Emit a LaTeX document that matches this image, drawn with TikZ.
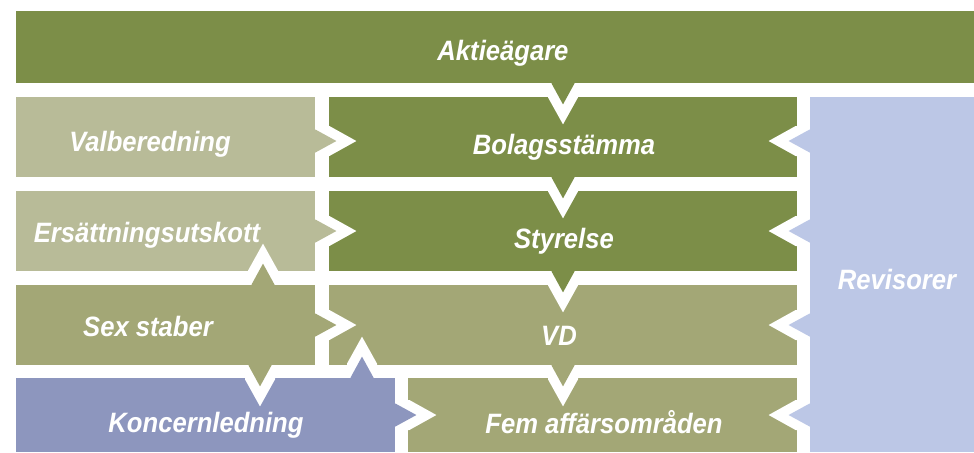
\documentclass[tikz,border=0pt]{standalone}
\usepackage{fontspec}
\newfontfamily\orgfont{Liberation Sans}[FakeStretch=0.915]
\definecolor{cgreen}{RGB}{124,142,72}
\definecolor{csage}{RGB}{184,187,152}
\definecolor{colive}{RGB}{163,167,118}
\definecolor{cslate}{RGB}{141,150,190}
\definecolor{csky}{RGB}{188,199,230}

\begin{document}
\begin{tikzpicture}[
    x=0.5pt, y=-0.5pt,
    box/.style={rectangle, inner sep=0pt, minimum width=149.5pt, minimum height=40pt},
    lbl/.style={anchor=base, inner sep=0pt, text=white,
                font=\orgfont\fontsize{14}{16}\selectfont\bfseries\itshape},
    pics/chev/.style={code={
      \fill[white] (6pt,7.5pt) -- (7pt,7.5pt) -- (20.5pt,0pt) -- (7pt,-7.5pt) -- (6pt,-7.5pt) -- cycle;
      \fill[#1] (-0.5pt,5.75pt) -- (0pt,5.75pt) -- (10.5pt,0pt) -- (0pt,-5.75pt) -- (-0.5pt,-5.75pt) -- cycle;
    }}
  ]
  \useasboundingbox (0,0) rectangle (974,452);

  % boxes
  \node[box, fill=cgreen, minimum width=479pt, minimum height=36pt] (aktie) at (495,47) {};
  \node[box, fill=csage] (valb) at (165.5,137) {};
  \node[box, fill=cgreen, minimum width=234pt] (bolag) at (563,137) {};
  \node[box, fill=csage] (ersatt) at (165.5,231) {};
  \node[box, fill=cgreen, minimum width=234pt] (styr) at (563,231) {};
  \node[box, fill=colive] (sex) at (165.5,325) {};
  \node[box, fill=colive, minimum width=234pt] (vd) at (563,325) {};
  \node[box, fill=cslate, minimum width=189.5pt, minimum height=37pt] (kon) at (205.5,415) {};
  \node[box, fill=colive, minimum width=194.5pt, minimum height=37pt] (fem) at (602.5,415) {};
  \node[box, fill=csky, minimum width=82pt, minimum height=177.5pt] (rev) at (892,274.5) {};

  % chevrons
  \pic[rotate=-90] at (aktie.south -| bolag) {chev=cgreen};
  \pic[rotate=-90] at (bolag.south) {chev=cgreen};
  \pic[rotate=-90] at (styr.south) {chev=cgreen};
  \pic[rotate=-90] at (vd.south) {chev=colive};
  \pic at ([yshift=-2pt]valb.east) {chev=csage};
  \pic at (ersatt.east) {chev=csage};
  \pic at (sex.east) {chev=colive};
  \pic at (kon.east) {chev=cslate};
  \pic[rotate=180] at ([yshift=-2pt]rev.west |- bolag) {chev=csky};
  \pic[rotate=180] at (rev.west |- styr) {chev=csky};
  \pic[rotate=180] at (rev.west |- vd) {chev=csky};
  \pic[rotate=180] at (rev.west |- fem) {chev=csky};
  \pic[rotate=90] at ([xshift=48.75pt]sex.north) {chev=colive};
  \pic[rotate=-90] at ([xshift=47.25pt]sex.south) {chev=colive};
  \pic[rotate=90] at ([xshift=78.25pt]kon.north) {chev=cslate};

  % labels
  \node[lbl] (aktie-t) at (503,60) {Aktieägare};
  \node[lbl] (valb-t) at (150,151) {Valberedning};
  \node[lbl] (bolag-t) at (564,154) {Bolagsstämma};
  \node[lbl] (ersatt-t) at (147,242) {Ersättningsutskott};
  \node[lbl] (styr-t) at (564,248) {Styrelse};
  \node[lbl] (sex-t) at (148,336) {Sex staber};
  \node[lbl] (vd-t) at (559,345) {VD};
  \node[lbl] (kon-t) at (206,432) {Koncernledning};
  \node[lbl] (fem-t) at (604,433) {Fem affärsområden};
  \node[lbl] (rev-t) at (897,289) {Revisorer};
\end{tikzpicture}
\end{document}
